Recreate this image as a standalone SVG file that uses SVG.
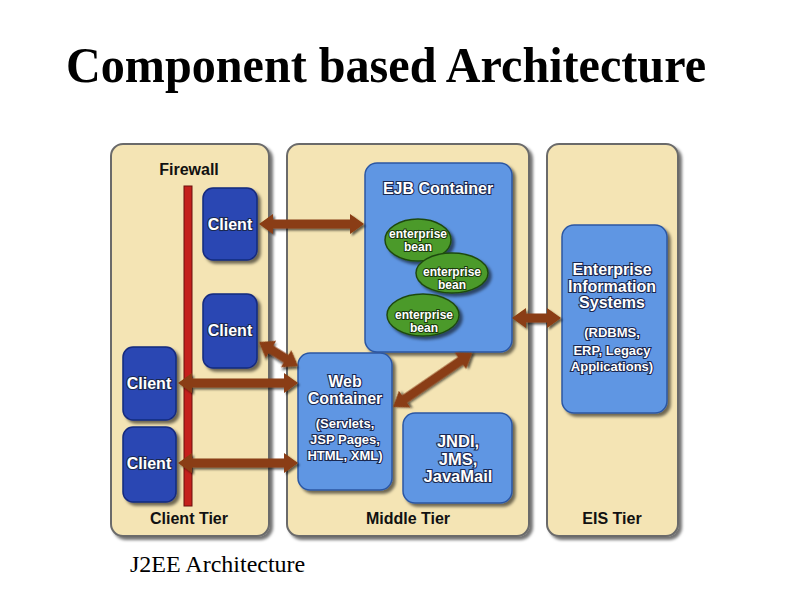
<svg xmlns="http://www.w3.org/2000/svg" width="791" height="612" viewBox="0 0 791 612">
<defs>
<filter id="sh" x="-20%" y="-20%" width="150%" height="150%"><feDropShadow dx="3" dy="3" stdDeviation="1.5" flood-color="#000" flood-opacity="0.55"/></filter>
<filter id="sha" x="-20%" y="-50%" width="150%" height="200%"><feDropShadow dx="2" dy="2" stdDeviation="1" flood-color="#000" flood-opacity="0.6"/></filter>
</defs>
<style>
.panel{fill:#f4e4b4;stroke:#6b6b6b;stroke-width:2}
.blue{fill:#5f96e3;stroke:#2c57a3;stroke-width:1.5}
.client{fill:#2b46b3;stroke:#142a7e;stroke-width:1.5}
.bean{fill:#4c9a2b;stroke:#1f4a10;stroke-width:1.5}
.wt{font-family:"Liberation Sans",Arial,sans-serif;font-weight:bold;fill:#fff;stroke:#1a2850;stroke-width:2.2;paint-order:stroke;text-anchor:middle}
.gt{font-family:"Liberation Sans",Arial,sans-serif;font-weight:bold;fill:#fff;stroke:#1b3a0c;stroke-width:2;paint-order:stroke;text-anchor:middle;font-size:12px}
.bt{font-family:"Liberation Sans",Arial,sans-serif;font-weight:bold;fill:#111;text-anchor:middle;font-size:16px}
.arrow{fill:#8a3d12;filter:url(#sha)}
</style>
<rect width="791" height="612" fill="#fff"/>
<text x="386" y="82" font-family="Liberation Serif,'Times New Roman',serif" font-weight="bold" font-size="50" text-anchor="middle" textLength="640" lengthAdjust="spacingAndGlyphs">Component based Architecture</text>

<g id="client-tier">
<rect class="panel" x="111" y="144" width="158" height="392" rx="12" filter="url(#sh)"/>
<text class="bt" x="189" y="175">Firewall</text>
<text class="bt" x="189" y="524">Client Tier</text>
</g>
<g id="firewall"><rect x="184" y="186" width="8" height="320" fill="#c4201c" stroke="#6a0f0c" stroke-width="1"/></g>
<g id="middle-tier">
<rect class="panel" x="287" y="144" width="242" height="392" rx="12" filter="url(#sh)"/>
<text class="bt" x="408" y="524">Middle Tier</text>
</g>
<g id="eis-tier">
<rect class="panel" x="547" y="144" width="131" height="392" rx="12" filter="url(#sh)"/>
<text class="bt" x="612" y="524">EIS Tier</text>
</g>

<g id="client1"><rect class="client" x="203" y="188" width="54" height="72" rx="10" filter="url(#sh)"/><text class="wt" x="230" y="230" font-size="16">Client</text></g>
<g id="client2"><rect class="client" x="203" y="294" width="54" height="74" rx="10" filter="url(#sh)"/><text class="wt" x="230" y="336" font-size="16">Client</text></g>
<g id="client3"><rect class="client" x="123" y="347" width="53" height="73" rx="10" filter="url(#sh)"/><text class="wt" x="149" y="389" font-size="16">Client</text></g>
<g id="client4"><rect class="client" x="123" y="427" width="53" height="75" rx="10" filter="url(#sh)"/><text class="wt" x="149" y="469" font-size="16">Client</text></g>

<g id="ejb-container">
<rect class="blue" x="365" y="163" width="147" height="189" rx="12" filter="url(#sh)"/>
<text class="wt" x="438" y="194" font-size="16">EJB Container</text>
</g>
<g id="bean1"><ellipse class="bean" cx="418" cy="240" rx="33" ry="21" filter="url(#sh)"/><text class="gt" x="418" y="238">enterprise</text><text class="gt" x="418" y="251">bean</text></g>
<g id="bean2"><ellipse class="bean" cx="452" cy="273" rx="36" ry="20" filter="url(#sh)"/><text class="gt" x="452" y="276">enterprise</text><text class="gt" x="452" y="289">bean</text></g>
<g id="bean3"><ellipse class="bean" cx="423" cy="315" rx="36" ry="21" filter="url(#sh)"/><text class="gt" x="424" y="319">enterprise</text><text class="gt" x="424" y="332">bean</text></g>

<g id="web-container">
<rect class="blue" x="298" y="353" width="94" height="137" rx="12" filter="url(#sh)"/>
<text class="wt" x="345" y="387" font-size="16">Web</text>
<text class="wt" x="345" y="404" font-size="16">Container</text>
<text class="wt" x="345" y="428" font-size="13">(Servlets,</text>
<text class="wt" x="345" y="444" font-size="13">JSP Pages,</text>
<text class="wt" x="345" y="460" font-size="13">HTML, XML)</text>
</g>
<g id="jndi">
<rect class="blue" x="403" y="413" width="109" height="90" rx="12" filter="url(#sh)"/>
<text class="wt" x="458" y="447" font-size="16.5">JNDI,</text>
<text class="wt" x="458" y="465" font-size="16.5">JMS,</text>
<text class="wt" x="458" y="482" font-size="16.5">JavaMail</text>
</g>
<g id="eis">
<rect class="blue" x="562" y="225" width="105" height="188" rx="12" filter="url(#sh)"/>
<text class="wt" x="612" y="275" font-size="16">Enterprise</text>
<text class="wt" x="612" y="292" font-size="16">Information</text>
<text class="wt" x="612" y="308" font-size="16">Systems</text>
<text class="wt" x="612" y="337" font-size="13">(RDBMS,</text>
<text class="wt" x="612" y="355" font-size="13">ERP, Legacy</text>
<text class="wt" x="612" y="371" font-size="13">Applications)</text>
</g>

<g id="connectors">
<polygon class="arrow" points="259,224 273,214 273,219.5 350,219.5 350,214 364,224 350,234 350,228.5 273,228.5 273,234"/>
<g transform="translate(259,342) rotate(31.6)"><polygon class="arrow" points="0,0 14,-10 14,-4.5 31.8,-4.5 31.8,-10 45.8,0 31.8,10 31.8,4.5 14,4.5 14,10"/></g>
<polygon class="arrow" points="178,383 192,373 192,378.5 284,378.5 284,373 298,383 284,393 284,387.5 192,387.5 192,393"/>
<polygon class="arrow" points="178,463 192,453 192,458.5 284,458.5 284,453 298,463 284,473 284,467.5 192,467.5 192,473"/>
<g transform="translate(393,407) rotate(-34.4)"><polygon class="arrow" points="0,0 14,-10 14,-4.5 81.7,-4.5 81.7,-10 95.7,0 81.7,10 81.7,4.5 14,4.5 14,10"/></g>
<polygon class="arrow" points="512,318 526,308 526,313.5 547,313.5 547,308 561,318 547,328 547,322.5 526,322.5 526,328"/>
</g>

<text x="130" y="572" font-family="Liberation Serif,'Times New Roman',serif" font-size="24" fill="#000">J2EE Architecture</text>
</svg>
